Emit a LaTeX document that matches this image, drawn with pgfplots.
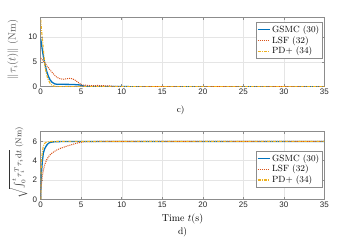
\documentclass[border=0pt]{standalone}
\usepackage{pgfplots}
\pgfplotsset{compat=1.18}
\usepackage{fontspec}
\newfontfamily\tickfont{Liberation Sans}
\definecolor{mblue}{rgb}{0,0.447,0.741}
\definecolor{morange}{rgb}{0.85,0.325,0.098}
\definecolor{myellow}{rgb}{0.929,0.694,0.125}
\definecolor{axgray}{rgb}{0.15,0.15,0.15}
\pgfplotsset{
  mystyle/.style={
    scale only axis,
    width=283.6pt,
    xmin=0, xmax=35,
    xtick={0,5,10,15,20,25,30,35},
    grid=major,
    major grid style={draw=black!10, line width=0.4pt},
    axis line style={draw=black!45, line width=0.5pt},
    tick align=inside,
    major tick length=2.5pt,
    tick style={draw=black!45, line width=0.5pt},
    /pgf/number format/assume math mode=true,
    ticklabel style={font=\tickfont\fontsize{8}{9}\selectfont, text=axgray},
    xticklabel style={yshift=1pt},
    legend style={font=\fontsize{9}{10}\selectfont, draw=black!45, inner sep=1.2pt, row sep=-1.5pt, cells={anchor=west}},
    legend image code/.code={\draw[#1] (0cm,0cm) -- (0.42cm,0cm);},
    legend cell align=left,
  }
}
\begin{document}
\begin{tikzpicture}[x=1pt,y=1pt]
\path[use as bounding box] (0,0) rectangle (354,240);
\begin{axis}[mystyle,
  at={(40.7pt,153.3pt)}, anchor=south west,
  height=69.4pt,
  ymin=0, ymax=14, ytick={0,5,10},
  ylabel={$\|\tau_i(t)\|$ (Nm)},
  ylabel style={at={(axis description cs:-0.098,0.54)}, anchor=center, font=\fontsize{10.5}{12}\selectfont, text=black!65},
  legend style={at={(axis cs:34.8,13.0)}, anchor=north east},
]
\addplot[draw=mblue, line width=1.3pt] coordinates {
(0,9.7)(0.1,8.6)(0.2,7.4)(0.33,6.1)(0.5,4.7)(0.74,3.1)(0.95,2.1)(1.15,1.4)(1.4,0.9)(1.6,0.7)(1.77,0.55)(2.0,0.5)(2.5,0.48)(3.2,0.47)(4.0,0.45)(4.85,0.35)(5.26,0.15)(5.6,0.06)(6.5,0.02)(8,0.01)(35,0.0)};
\addlegendentry{GSMC (30)}
\addplot[draw=morange, line width=1.0pt, densely dotted] coordinates {
(0,5.8)(0.25,5.3)(0.53,4.8)(0.8,4.1)(1.15,3.4)(1.5,2.7)(1.98,1.9)(2.4,1.6)(2.8,1.5)(3.2,1.6)(3.6,1.7)(3.9,1.6)(4.2,1.37)(4.6,0.9)(5.06,0.35)(5.7,0.28)(6.3,0.2)(7,0.25)(7.8,0.2)(8.5,0.15)(9.2,0.05)(10,0.02)(35,0.0)};
\addlegendentry{LSF (32)}
\addplot[draw=myellow, line width=1.1pt, dash pattern=on 3pt off 1.2pt on 0.8pt off 1.2pt] coordinates {
(0,13.5)(0.1,11.4)(0.25,8.9)(0.4,6.2)(0.53,4.1)(0.7,2.6)(0.9,1.5)(1.15,0.7)(1.35,0.35)(1.56,0.15)(1.8,0.07)(2.2,0.03)(3,0.01)(35,0.0)};
\addlegendentry{PD+ (34)}
\end{axis}
\begin{axis}[mystyle,
  at={(40.7pt,40.7pt)}, anchor=south west,
  height=67.6pt,
  ymin=0, ymax=7, ytick={0,2,4,6},
  ylabel={$\sqrt{\int_0^t \tau_i^T\tau_i\,\mathrm{d}t}$ (Nm)},
  ylabel style={at={(axis description cs:-0.079,0.54)}, anchor=center, font=\fontsize{8.2}{10}\selectfont, text=black!80},
  xlabel={Time $t$(s)},
  xlabel style={at={(axis description cs:0.5,0)}, anchor=center, yshift=-20pt, font=\fontsize{10}{11}\selectfont},
  legend style={at={(axis cs:34.8,5.0)}, anchor=north east},
]
\addplot[draw=mblue, line width=1.3pt] coordinates {
(0,0)(0.03,1.6)(0.06,2.3)(0.12,3.0)(0.2,3.9)(0.33,4.8)(0.5,5.25)(0.74,5.6)(0.95,5.8)(1.15,5.88)(1.5,5.94)(1.98,5.97)(3,5.98)(5,5.99)(35,5.99)};
\addlegendentry{GSMC (30)}
\addplot[draw=morange, line width=1.0pt, densely dotted] coordinates {
(0,0)(0.03,1.0)(0.06,1.4)(0.12,1.8)(0.2,2.4)(0.33,3.0)(0.5,3.6)(0.74,4.1)(1.0,4.45)(1.15,4.6)(1.5,4.85)(1.98,5.1)(2.5,5.3)(3.2,5.5)(3.8,5.65)(4.4,5.8)(5.3,5.96)(6,5.98)(8,5.99)(35,5.99)};
\addlegendentry{LSF (32)}
\addplot[draw=myellow, line width=1.1pt, dash pattern=on 3pt off 1.2pt on 0.8pt off 1.2pt] coordinates {
(0,0)(0.03,2.3)(0.06,3.1)(0.1,3.9)(0.2,4.9)(0.3,5.4)(0.4,5.7)(0.6,5.88)(0.8,5.95)(1.2,5.98)(2,5.99)(35,5.99)};
\addlegendentry{PD+ (34)}
\end{axis}
\node[font=\fontsize{9}{10}\selectfont] at (180.7,130) {c)};
\node[font=\fontsize{9.5}{10}\selectfont] at (182.7,8.3) {d)};
\end{tikzpicture}
\end{document}
